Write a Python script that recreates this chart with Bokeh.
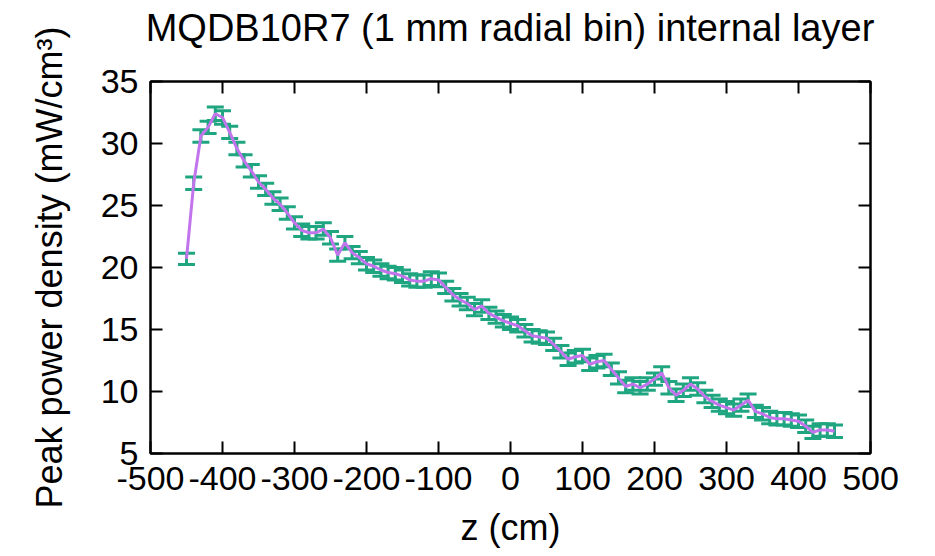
from bokeh.plotting import figure
from bokeh.models import (ColumnDataSource, Whisker, TeeHead, Range1d, FixedTicker,
                          LinearAxis, CustomJSTickFormatter, Div)
from bokeh.layouts import column
from bokeh.embed import file_html
from bokeh.resources import INLINE

# z positions (cm)
z = [-450, -440, -430, -420, -410, -400, -390, -380, -370, -360,
     -350, -340, -330, -320, -310, -300, -290, -280, -270, -260,
     -250, -240, -230, -220, -210, -200, -190, -180, -170, -160,
     -150, -140, -130, -120, -110, -100, -90, -80, -70, -60,
     -50, -40, -30, -20, -10, 0, 10, 20, 30, 40,
     50, 60, 70, 80, 90, 100, 110, 120, 130, 140,
     150, 160, 170, 180, 190, 200, 210, 220, 230, 240,
     250, 260, 270, 280, 290, 300, 310, 320, 330, 340,
     350, 360, 370, 380, 390, 400, 410, 420, 430, 440, 450]

# peak power density (mW/cm^3)
density = [20.7, 26.8, 30.6, 31.3, 32.4, 32.1, 30.9, 29.6, 28.6, 27.8,
           26.9, 26.3, 25.6, 25.1, 24.4, 23.6, 23.0, 22.8, 22.8, 23.1,
           22.4, 21.0, 22.0, 21.2, 20.8, 20.3, 20.1, 19.8, 19.6, 19.5,
           19.3, 19.0, 18.9, 18.9, 19.1, 19.0, 18.4, 17.8, 17.4, 17.1,
           16.6, 16.9, 16.3, 16.0, 15.7, 15.5, 15.3, 14.9, 14.5, 14.4,
           14.3, 13.8, 13.2, 12.6, 12.8, 12.9, 12.2, 12.4, 12.5, 11.8,
           11.1, 10.4, 10.6, 10.3, 10.6, 11.0, 11.5, 10.3, 9.7, 10.1,
           10.6, 10.2, 9.6, 9.2, 8.9, 8.7, 8.5, 8.9, 9.3, 8.4,
           8.2, 7.9, 7.8, 7.8, 7.7, 7.6, 7.2, 6.7, 6.9, 6.9, 6.8]

# statistical errors (mW/cm^3)
errors = [0.45, 0.5, 0.5, 0.5, 0.55, 0.55, 0.5, 0.5, 0.5, 0.5,
          0.5, 0.5, 0.5, 0.5, 0.5, 0.5, 0.5, 0.5, 0.5, 0.5,
          0.5, 0.5, 0.5, 0.5, 0.5, 0.5, 0.5, 0.5, 0.5, 0.5,
          0.5, 0.5, 0.5, 0.5, 0.55, 0.55, 0.5, 0.5, 0.5, 0.5,
          0.5, 0.5, 0.5, 0.5, 0.5, 0.5, 0.5, 0.5, 0.5, 0.5,
          0.5, 0.5, 0.5, 0.5, 0.5, 0.5, 0.5, 0.5, 0.5, 0.5,
          0.5, 0.5, 0.5, 0.5, 0.5, 0.5, 0.5, 0.5, 0.5, 0.5,
          0.5, 0.5, 0.5, 0.5, 0.5, 0.5, 0.5, 0.5, 0.5, 0.5,
          0.5, 0.5, 0.5, 0.5, 0.5, 0.5, 0.5, 0.5, 0.5, 0.5, 0.5]

x_ticks = [-500, -400, -300, -200, -100, 0, 100, 200, 300, 400, 500]
y_ticks = [5, 10, 15, 20, 25, 30, 35]

title_text = "MQDB10R7 (1 mm radial bin) internal layer"
x_label = "z (cm)"
y_label = "Peak power density (mW/cm³)"

FONT = "Liberation Sans"
PURPLE = "#c274ec"
GREEN = "#1fa680"
TITLE_H = 56

src = ColumnDataSource(dict(
    z=z, d=density,
    up=[v + e for v, e in zip(density, errors)],
    lo=[v - e for v, e in zip(density, errors)],
))

p = figure(width=935, height=556, output_backend="svg", toolbar_location=None,
           x_range=Range1d(-500, 500), y_range=Range1d(5, 35),
           min_border_left=150, min_border_right=65,
           min_border_top=81, min_border_bottom=103)
p.margin = 0

p.grid.visible = False
p.outline_line_color = "black"
p.outline_line_width = 2
p.background_fill_color = "white"
p.border_fill_color = "white"

# error bars
wh = Whisker(source=src, base="z", upper="up", lower="lo", dimension="height",
             line_color=GREEN, line_width=3,
             upper_head=TeeHead(size=17, line_color=GREEN, line_width=3),
             lower_head=TeeHead(size=17, line_color=GREEN, line_width=3))
p.add_layout(wh)

p.line("z", "d", source=src, line_color=PURPLE, line_width=3)

plain = CustomJSTickFormatter(code="return tick.toString();")
blank = CustomJSTickFormatter(code="return '';")

for ax in (p.xaxis[0], p.yaxis[0]):
    ax.major_tick_in = 12
    ax.major_tick_out = 0
    ax.minor_tick_line_color = None
    ax.axis_line_color = "black"
    ax.axis_line_width = 2
    ax.major_tick_line_color = "black"
    ax.major_tick_line_width = 2
    ax.major_label_text_font = FONT
    ax.major_label_text_font_size = "34px"
    ax.major_label_text_color = "black"
    ax.axis_label_text_font = FONT
    ax.axis_label_text_font_size = "36px"
    ax.axis_label_text_font_style = "normal"
    ax.axis_label_text_color = "black"
    ax.formatter = plain

p.xaxis[0].ticker = FixedTicker(ticks=x_ticks)
p.yaxis[0].ticker = FixedTicker(ticks=y_ticks)
p.xaxis[0].axis_label = x_label
p.yaxis[0].axis_label = y_label
p.xaxis[0].major_label_standoff = 13
p.yaxis[0].major_label_standoff = 12
p.xaxis[0].axis_label_standoff = 14
p.yaxis[0].axis_label_standoff = 28

# mirrored ticks on top and right
top = LinearAxis(ticker=FixedTicker(ticks=x_ticks), formatter=blank)
right = LinearAxis(ticker=FixedTicker(ticks=y_ticks), formatter=blank)
for ax in (top, right):
    ax.major_tick_in = 12
    ax.major_tick_out = 0
    ax.minor_tick_line_color = None
    ax.axis_line_color = "black"
    ax.axis_line_width = 2
    ax.major_tick_line_color = "black"
    ax.major_tick_line_width = 2
    ax.major_label_standoff = 0
p.add_layout(top, "above")
p.add_layout(right, "right")

# title overlaid on the top border of the figure, centred over the frame
title_div = Div(text=title_text, width=800, height=TITLE_H, margin=0,
                styles={"position": "absolute", "top": "0px", "left": "110px",
                        "z-index": "10",
                        "font-family": FONT, "font-size": "38px", "color": "black",
                        "text-align": "center", "line-height": f"{TITLE_H}px",
                        "white-space": "nowrap"})

layout = column(p, title_div, spacing=0, margin=0)

open("out.html", "w").write(file_html(layout, INLINE))
